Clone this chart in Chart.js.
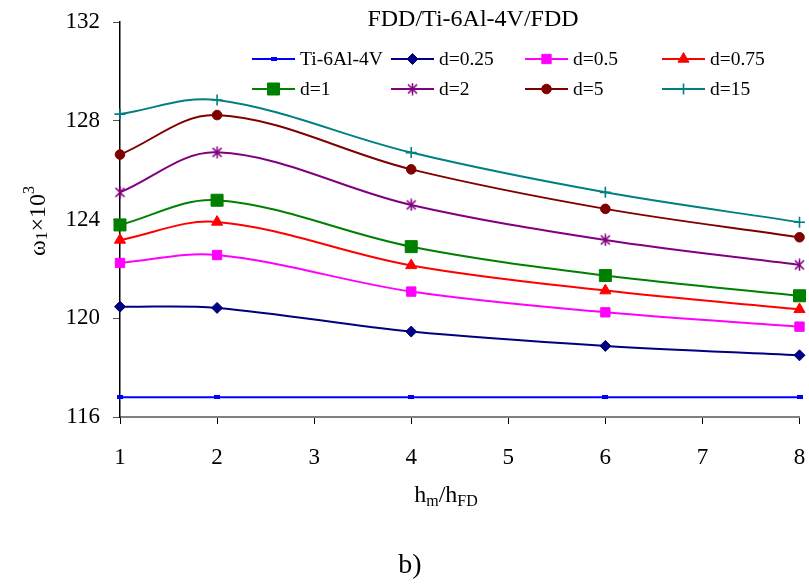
<!DOCTYPE html>
<html>
<head>
<meta charset="utf-8">
<script src="https://cdn.jsdelivr.net/npm/chart.js@4/dist/chart.umd.min.js"></script>
<style>
  body { margin: 0; background: #fff; }
  canvas { display: block; }
</style>
</head>
<body>
<canvas id="chart" width="809" height="584"></canvas>
<script>
// values
var xs = [1, 2, 4, 6, 8];
var xTicks = [1, 2, 3, 4, 5, 6, 7, 8];
var yTicks = [116, 120, 124, 128, 132];

var ti = [116.8, 116.8, 116.8, 116.8, 116.8];
var d025 = [120.47, 120.42, 119.46, 118.88, 118.50];
var d05 = [122.24, 122.56, 121.08, 120.24, 119.66];
var d075 = [123.17, 123.90, 122.14, 121.12, 120.36];
var d1 = [123.78, 124.78, 122.90, 121.73, 120.91];
var d2 = [125.10, 126.72, 124.59, 123.17, 122.16];
var d5 = [126.63, 128.23, 126.03, 124.43, 123.28];
var d15 = [128.27, 128.84, 126.71, 125.10, 123.89];

var names = ['Ti-6Al-4V', 'd=0.25', 'd=0.5', 'd=0.75', 'd=1', 'd=2', 'd=5', 'd=15'];
var series = [ti, d025, d05, d075, d1, d2, d5, d15];
var colors = ['#0000FF', '#000080', '#FF00FF', '#FF0000', '#008000', '#800080', '#800000', '#008080'];

var FONT = '"Liberation Serif", "Times New Roman", serif';

// small dash marker for Ti-6Al-4V
var dash = document.createElement('canvas');
dash.width = 6; dash.height = 4;
var dc = dash.getContext('2d');
dc.fillStyle = '#0000FF';
dc.fillRect(0, 0, 6, 4);

// excel-like asterisk marker (x plus vertical bar)
var star = document.createElement('canvas');
star.width = 13; star.height = 13;
var sc = star.getContext('2d');
sc.strokeStyle = '#800080';
sc.lineWidth = 1.6;
sc.beginPath();
sc.moveTo(2, 2); sc.lineTo(11, 11);
sc.moveTo(11, 2); sc.lineTo(2, 11);
sc.moveTo(6.5, 0.5); sc.lineTo(6.5, 12.5);
sc.stroke();

var styles = [dash, 'rectRot', 'rect', 'triangle', 'rect', star, 'circle', 'cross'];
var radii = [3, 5.5, 6.6, 6.4, 8.5, 6, 4.8, 5.5];

var datasets = series.map(function (vals, i) {
  return {
    label: names[i],
    data: vals.map(function (v, j) { return { x: xs[j], y: v }; }),
    borderColor: colors[i],
    backgroundColor: colors[i],
    borderWidth: 2,
    pointStyle: styles[i],
    pointRadius: radii[i],
    pointBorderWidth: i === 7 ? 1.6 : 1,
    pointBackgroundColor: colors[i],
    pointBorderColor: colors[i],
    tension: 0.35,
    clip: false
  };
});

// title, legend, axis titles drawn where the reference has them
var extras = {
  id: 'extras',
  afterDraw: function (chart) {
    var ctx = chart.ctx;
    ctx.save();
    ctx.fillStyle = '#000';
    ctx.textBaseline = 'alphabetic';

    ctx.font = '24px ' + FONT;
    ctx.textAlign = 'center';
    ctx.fillText('FDD/Ti-6Al-4V/FDD', 473, 26);

    // legend, 2 rows x 4 columns
    var colX = [252, 391, 525, 662];
    var rowY = [59, 89];
    ctx.font = '19.5px ' + FONT;
    ctx.textAlign = 'left';
    ctx.textBaseline = 'middle';
    chart.data.datasets.forEach(function (ds, i) {
      var x0 = colX[i % 4], y0 = rowY[Math.floor(i / 4)];
      ctx.strokeStyle = ds.borderColor;
      ctx.lineWidth = 2;
      ctx.beginPath();
      ctx.moveTo(x0, y0);
      ctx.lineTo(x0 + 43, y0);
      ctx.stroke();
      ctx.fillStyle = ds.backgroundColor;
      ctx.lineWidth = ds.pointBorderWidth;
      Chart.helpers.drawPoint(ctx, {
        pointStyle: ds.pointStyle,
        radius: ds.pointRadius,
        rotation: 0,
        borderWidth: ds.pointBorderWidth
      }, x0 + 21.5, y0);
      ctx.fillStyle = '#000';
      ctx.fillText(ds.label, x0 + 48, y0 + 1);
    });

    // x axis title h_m/h_FD
    ctx.textBaseline = 'alphabetic';
    var parts = [['h', 24, 0], ['m', 16, 4], ['/h', 24, 0], ['FD', 16, 4]];
    var w = 0;
    parts.forEach(function (p) { ctx.font = p[1] + 'px ' + FONT; w += ctx.measureText(p[0]).width; });
    var x = 446 - w / 2;
    parts.forEach(function (p) {
      ctx.font = p[1] + 'px ' + FONT;
      ctx.fillText(p[0], x, 502 + p[2]);
      x += ctx.measureText(p[0]).width;
    });

    // y axis title  omega_1 x 10^3
    ctx.translate(45, 221);
    ctx.rotate(-Math.PI / 2);
    var yparts = [['\u03C9', 24, 0], ['1', 17, 2], ['\u00D710', 24, 0], ['3', 16, -11]];
    w = 0;
    yparts.forEach(function (p) { ctx.font = p[1] + 'px ' + FONT; w += ctx.measureText(p[0]).width; });
    x = -w / 2;
    yparts.forEach(function (p) {
      ctx.font = p[1] + 'px ' + FONT;
      ctx.fillText(p[0], x, p[2]);
      x += ctx.measureText(p[0]).width;
    });
    ctx.setTransform(1, 0, 0, 1, 0, 0);

    ctx.font = '28px ' + FONT;
    ctx.textAlign = 'center';
    ctx.fillText('b)', 410, 573);
    ctx.restore();
  }
};

var config = {
  type: 'line',
  data: { datasets: datasets },
  options: {
    responsive: false,
    animation: false,
    layout: { padding: { left: 0, top: 22, right: 8, bottom: 0 } },
    plugins: {
      legend: { display: false },
      title: { display: false },
      tooltip: { enabled: false }
    },
    scales: {
      x: {
        type: 'linear',
        min: 1,
        max: 8,
        afterBuildTicks: function (scale) {
          scale.ticks = xTicks.map(function (v) { return { value: v }; });
        },
        afterFit: function (scale) {
          scale.height = 584 - 417;
          scale.paddingLeft = 0;
          scale.paddingRight = 0;
        },
        grid: { drawOnChartArea: false, drawTicks: true, tickLength: 7, color: '#000' },
        border: { color: '#808080', width: 2 },
        ticks: { color: '#000', padding: 20, maxRotation: 0, font: { family: FONT, size: 23 } }
      },
      y: {
        min: 116,
        max: 132,
        afterBuildTicks: function (scale) {
          scale.ticks = yTicks.map(function (v) { return { value: v }; });
        },
        afterFit: function (scale) {
          scale.width = 120;
          scale.paddingTop = 0;
          scale.paddingBottom = 0;
        },
        grid: { drawOnChartArea: false, drawTicks: true, tickLength: 7, color: '#555' },
        border: { color: '#000', width: 1.5 },
        ticks: { color: '#000', padding: 13, font: { family: FONT, size: 23 } }
      }
    }
  },
  plugins: [extras]
};

window.onload = function () {
  var ctx = document.getElementById('chart').getContext('2d');
  window.myChart = new Chart(ctx, config);
};
</script>
</body>
</html>
